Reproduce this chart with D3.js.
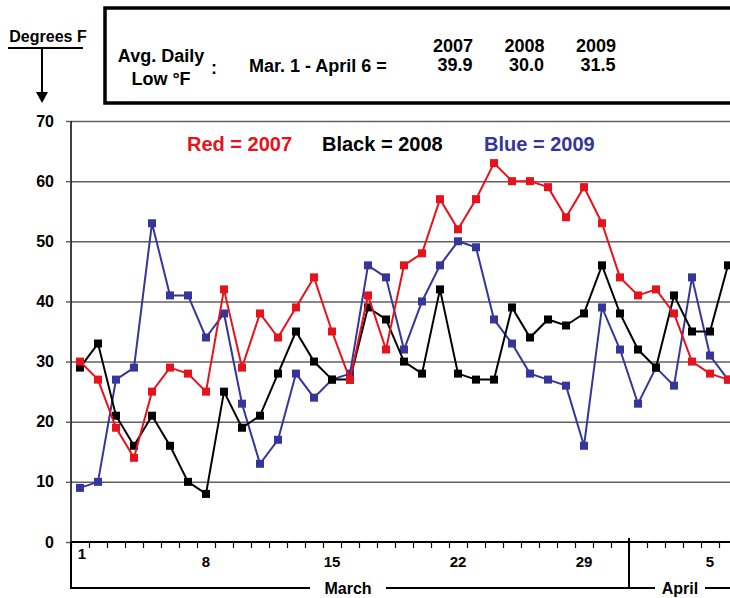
<!DOCTYPE html>
<html>
<head>
<meta charset="utf-8">
<script src="https://cdn.jsdelivr.net/npm/d3@7"></script>
<style>
  body { margin: 0; background: #fff; }
  svg { display: block; font-family: "Liberation Sans", Arial, sans-serif; font-weight: bold; }
</style>
</head>
<body>
<div id="chart-area"></div>
<script>

// Daily lows, Mar. 1 - April 6
const days = [1,2,3,4,5,6,7,8,9,10,11,12,13,14,15,16,17,18,19,20,21,22,23,24,25,26,27,28,29,30,31,32,33,34,35,36,37];
const low2007 = [30,27,19,14,25,29,28,25,42,29,38,34,39,44,35,27,41,32,46,48,57,52,57,63,60,60,59,54,59,53,44,41,42,38,30,28,27];
const low2008 = [29,33,21,16,21,16,10,8,25,19,21,28,35,30,27,27,39,37,30,28,42,28,27,27,39,34,37,36,38,46,38,32,29,41,35,35,46];
const low2009 = [9,10,27,29,53,41,41,34,38,23,13,17,28,24,27,28,46,44,32,40,46,50,49,37,33,28,27,26,16,39,32,23,29,26,44,31,27];

const yTicks = [0,10,20,30,40,50,60,70];
const xTickDays = [1,8,15,22,29,36];
const xTickText = ['1','8','15','22','29','5'];
const years = ['2007','2008','2009'];
const averages = ['39.9','30.0','31.5'];

const width = 730;
const height = 598;
const margin = { left: 71, top: 121, bottom: 56 };
const plotRight = 737; // 37 days, cut off at the window edge

const svg = d3.select('#chart-area').append('svg')
  .attr('width', width)
  .attr('height', height);

const x = d3.scaleBand()
  .domain(days)
  .range([margin.left, plotRight]);

const xEdge = d3.scaleLinear()
  .domain([0, days.length])
  .range([margin.left, plotRight]);

const y = d3.scaleLinear()
  .domain([0, 70])
  .range([height - margin.bottom, margin.top]);

// grid
svg.append('g')
  .attr('class', 'grid')
  .attr('transform', `translate(${margin.left}, 0)`)
  .call(d3.axisLeft(y).tickValues(yTicks.slice(1)).tickSize(-(plotRight - margin.left)).tickFormat(''))
  .call(g => g.select('.domain').remove())
  .selectAll('line')
    .attr('stroke', '#606060')
    .attr('stroke-width', 1.5);

// y axis
svg.append('g')
  .attr('transform', `translate(${margin.left}, 0)`)
  .call(d3.axisLeft(y).tickValues(yTicks).tickSize(5).tickPadding(12))
  .call(g => g.select('.domain').attr('stroke-width', 1.5).attr('d', `M0,${y(70)}V${y(0)}`))
  .call(g => g.selectAll('line').attr('stroke', '#606060').attr('stroke-width', 1.5))
  .selectAll('text')
    .attr('font-family', '"Liberation Sans", Arial, sans-serif')
    .attr('font-weight', 'bold')
    .attr('font-size', '16px')
    .attr('fill', '#000');

// x axis (ticks on day boundaries)
svg.append('g')
  .attr('transform', `translate(0, ${y(0)})`)
  .call(d3.axisBottom(xEdge).tickValues(d3.range(0, days.length + 1)).tickSize(6).tickFormat(''))
  .call(g => g.select('.domain').attr('stroke-width', 2).attr('d', `M${margin.left},0H${plotRight}`))
  .selectAll('line')
    .attr('stroke', '#000')
    .attr('stroke-width', 1.2);

svg.append('g')
  .selectAll('text')
  .data(xTickDays)
  .enter().append('text')
    .attr('x', d => x(d) + x.bandwidth() / 2 + (d === 1 ? 2 : 0))
    .attr('y', d => d === 1 ? 559 : 567)
    .attr('text-anchor', 'middle')
    .attr('font-size', '15px')
    .text((d, i) => xTickText[i]);

// month bracket
const bracketY = 588;
const aprilEdge = xEdge(31);
svg.append('path')
  .attr('d', `M${margin.left},${y(0)}V${bracketY}H310 M386,${bracketY}H${aprilEdge} M${aprilEdge},${y(0) - 4}V${bracketY}H655 M705,${bracketY}H${width}`)
  .attr('fill', 'none')
  .attr('stroke', '#000')
  .attr('stroke-width', 2);

svg.append('text')
  .attr('x', 348).attr('y', 594)
  .attr('text-anchor', 'middle')
  .attr('font-size', '16px')
  .text('March');

svg.append('text')
  .attr('x', 680).attr('y', 594)
  .attr('text-anchor', 'middle')
  .attr('font-size', '16px')
  .text('April');

// series
const series = [
  { values: low2009, color: '#35359c' },
  { values: low2008, color: '#000000' },
  { values: low2007, color: '#e8121c' }
];

const line = d3.line()
  .x((d, i) => x(days[i]) + x.bandwidth() / 2)
  .y(d => y(d));

series.forEach(s => {
  const g = svg.append('g');
  g.append('path')
    .attr('d', line(s.values))
    .attr('fill', 'none')
    .attr('stroke', s.color)
    .attr('stroke-width', 2);
  g.selectAll('rect')
    .data(s.values)
    .enter().append('rect')
      .attr('x', (d, i) => x(days[i]) + x.bandwidth() / 2 - 4)
      .attr('y', d => y(d) - 4)
      .attr('width', 8)
      .attr('height', 8)
      .attr('fill', s.color);
});

// legend
const legend = [
  { text: 'Red = 2007', color: '#e8121c', x: 187 },
  { text: 'Black = 2008', color: '#000000', x: 322 },
  { text: 'Blue = 2009', color: '#35359c', x: 484 }
];
svg.append('g')
  .selectAll('text')
  .data(legend)
  .enter().append('text')
    .attr('x', d => d.x)
    .attr('y', 151)
    .attr('font-size', '20px')
    .attr('fill', d => d.color)
    .text(d => d.text);

// "Degrees F" with arrow
svg.append('text')
  .attr('x', 48).attr('y', 42)
  .attr('text-anchor', 'middle')
  .attr('font-size', '16px')
  .text('Degrees F');

svg.append('path')
  .attr('d', 'M8,48H83 M42,48V94')
  .attr('stroke', '#000')
  .attr('stroke-width', 2)
  .attr('fill', 'none');

svg.append('path')
  .attr('d', 'M36,92L48,92L42,103Z')
  .attr('fill', '#000');

// summary box
svg.append('rect')
  .attr('x', 105).attr('y', 8)
  .attr('width', 640).attr('height', 95)
  .attr('fill', 'none')
  .attr('stroke', '#000')
  .attr('stroke-width', 3.5);

svg.append('text')
  .attr('x', 161).attr('y', 62)
  .attr('text-anchor', 'middle')
  .attr('font-size', '18px')
  .text('Avg. Daily');

svg.append('text')
  .attr('x', 161).attr('y', 85)
  .attr('text-anchor', 'middle')
  .attr('font-size', '18px')
  .text('Low °F');

svg.append('text')
  .attr('x', 211).attr('y', 74)
  .attr('font-size', '18px')
  .text(':');

svg.append('text')
  .attr('x', 249).attr('y', 72)
  .attr('font-size', '18px')
  .text('Mar. 1 - April 6 =');

const colX = d3.scalePoint()
  .domain(years)
  .range([453, 596]);

svg.append('g')
  .selectAll('text')
  .data(years)
  .enter().append('text')
    .attr('x', d => colX(d))
    .attr('y', 52)
    .attr('text-anchor', 'middle')
    .attr('font-size', '18px')
    .text(d => d);

svg.append('g')
  .selectAll('text')
  .data(averages)
  .enter().append('text')
    .attr('x', (d, i) => colX(years[i]) + 2)
    .attr('y', 71)
    .attr('text-anchor', 'middle')
    .attr('font-size', '18px')
    .text(d => d);

</script>
</body>
</html>
